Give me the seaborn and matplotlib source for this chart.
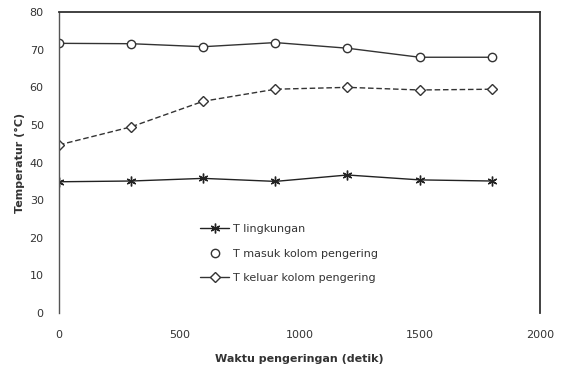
import matplotlib
matplotlib.use("Agg")
import matplotlib.pyplot as plt
from matplotlib.lines import Line2D
import seaborn as sns
import pandas as pd

waktu = [0, 300, 600, 900, 1200, 1500, 1800]
t_lingkungan = [34.9, 35.1, 35.8, 35.0, 36.7, 35.4, 35.1]
t_masuk = [71.7, 71.6, 70.8, 71.9, 70.4, 68.0, 68.0]
t_keluar = [44.7, 49.5, 56.3, 59.5, 60.0, 59.3, 59.5]
labels = ["T lingkungan", "T masuk kolom pengering", "T keluar kolom pengering"]
x_ticks = [0, 500, 1000, 1500, 2000]
y_ticks = [0, 10, 20, 30, 40, 50, 60, 70, 80]

sns.set_style("white")
plt.rcParams['font.family'] = ['DejaVu Sans']

fig = plt.figure(figsize=(5.63, 3.67), dpi=100)
ax = fig.add_axes([0.1048, 0.147, 0.854, 0.820])

df = pd.DataFrame({"x": waktu, "a": t_lingkungan, "b": t_masuk, "c": t_keluar})

sty_a = dict(color="#222222", lw=1.0, marker=(6, 2, 0), markersize=7,
             markeredgewidth=1.0, markeredgecolor="#222222")
sty_b = dict(color="#333333", lw=1.0, marker="o", markersize=6,
             markerfacecolor="white", markeredgecolor="#333333", markeredgewidth=1.0)
sty_c = dict(color="#333333", lw=1.0, marker="D", markersize=5,
             markerfacecolor="white", markeredgecolor="#333333", markeredgewidth=1.0)

sns.lineplot(data=df, x="x", y="a", ax=ax, legend=False, **sty_a)
sns.lineplot(data=df, x="x", y="b", ax=ax, legend=False, **sty_b)
sns.lineplot(data=df, x="x", y="c", ax=ax, legend=False, linestyle=(0, (4, 2)), **sty_c)

ax.set_xlim(0, 2000)
ax.set_ylim(0, 80)
ax.set_xticks(x_ticks)
ax.set_yticks(y_ticks)
ax.tick_params(axis="both", labelsize=8, labelcolor="#333333", length=4,
               width=0.8, color="#555555", direction="out")
ax.tick_params(axis="x", pad=7, length=5)
ax.tick_params(axis="y", pad=7)

for s in ["top", "right"]:
    ax.spines[s].set_visible(True)
    ax.spines[s].set_color("#333333")
    ax.spines[s].set_linewidth(1.3)
ax.spines["left"].set_color("#555555")
ax.spines["left"].set_linewidth(1.0)
ax.spines["bottom"].set_visible(False)

ax.set_xlabel("Waktu pengeringan (detik)", fontsize=8, fontweight="bold", color="#333333", labelpad=10)
ax.set_ylabel("Temperatur (°C)", fontsize=8, fontweight="bold", color="#333333", labelpad=3)

handles = [Line2D([], [], **sty_a),
           Line2D([], [], linestyle="none", **{k: v for k, v in sty_b.items() if k != "lw"}),
           Line2D([], [], linestyle="-", **sty_c)]
leg = ax.legend(handles, labels, loc="upper left", bbox_to_anchor=(0.285, 0.31),
                frameon=False, fontsize=8, handlelength=2.6, handletextpad=0.3,
                labelspacing=1.3, borderaxespad=0)
for t in leg.get_texts():
    t.set_color("#333333")

fig.savefig("out.png", dpi=100)
